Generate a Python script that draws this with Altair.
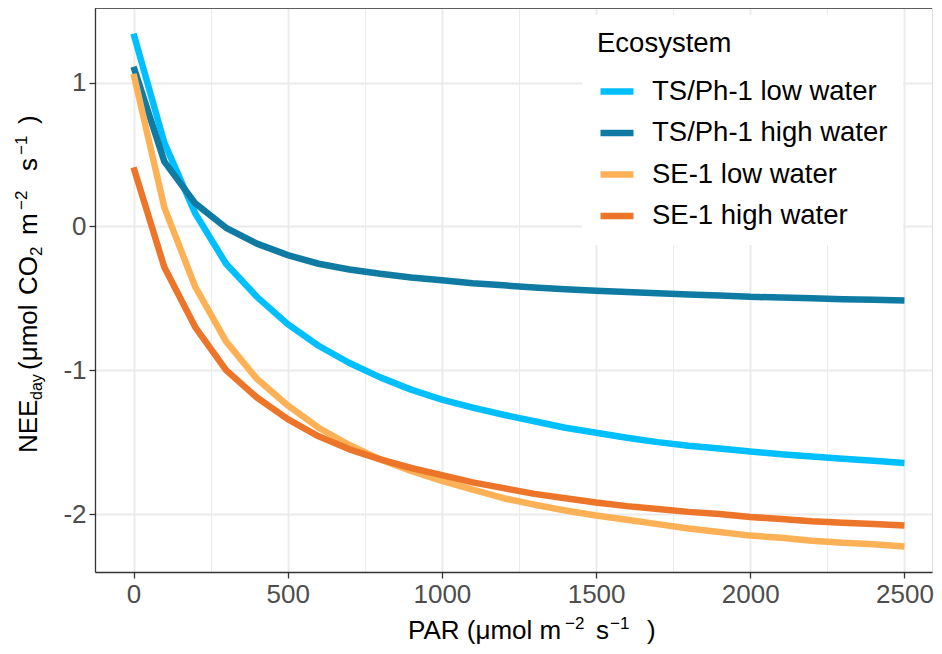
import altair as alt
import pandas as pd

# ---- data ----
par = [0, 100, 200, 300, 400, 500, 600, 700, 800, 900, 1000, 1100, 1200,
       1300, 1400, 1500, 1600, 1700, 1800, 1900, 2000, 2100, 2200, 2300, 2400, 2500]

ts_low = [1.34, 0.58, 0.09, -0.26, -0.49, -0.68, -0.83, -0.95, -1.05, -1.135, -1.205,
          -1.26, -1.31, -1.355, -1.40, -1.435, -1.47, -1.50, -1.525, -1.545, -1.565,
          -1.585, -1.60, -1.615, -1.63, -1.645]
ts_high = [1.11, 0.45, 0.16, -0.01, -0.12, -0.20, -0.26, -0.30, -0.33, -0.355, -0.375,
           -0.395, -0.41, -0.425, -0.437, -0.447, -0.456, -0.465, -0.473, -0.48, -0.49,
           -0.495, -0.50, -0.506, -0.511, -0.516]
se_low = [1.06, 0.13, -0.42, -0.80, -1.06, -1.245, -1.40, -1.52, -1.62, -1.70, -1.77,
          -1.83, -1.89, -1.935, -1.975, -2.01, -2.04, -2.07, -2.10, -2.125, -2.15,
          -2.165, -2.185, -2.20, -2.21, -2.225]
se_high = [0.41, -0.285, -0.70, -1.00, -1.19, -1.34, -1.46, -1.55, -1.62, -1.68, -1.73,
           -1.78, -1.82, -1.86, -1.89, -1.92, -1.945, -1.965, -1.985, -2.00, -2.02,
           -2.035, -2.05, -2.06, -2.07, -2.08]

series_names = ["TS/Ph-1 low water", "TS/Ph-1 high water", "SE-1 low water", "SE-1 high water"]
series_colors = ["#00BFFF", "#0F7BA3", "#FDB157", "#EC7529"]

x_ticks = [0, 250, 500, 750, 1000, 1250, 1500, 1750, 2000, 2250, 2500]
y_ticks = [-2, -1.5, -1, -0.5, 0, 0.5, 1, 1.5]

rows = []
for name, vals in zip(series_names, [ts_low, ts_high, se_low, se_high]):
    for p, v in zip(par, vals):
        rows.append({"PAR": p, "NEE": v, "Ecosystem": name})
df = pd.DataFrame(rows)

FONT = "Liberation Sans"
W, H = 837, 564

x_axis = alt.Axis(
    values=x_ticks, format="d", title=None,
    labelExpr="datum.value % 500 === 0 ? datum.label : ''",
    labelFontSize=26, labelColor="#4D4D4D", labelFont=FONT, labelPadding=3,
    tickSize={"condition": {"test": "datum.value % 500 === 0", "value": 6}, "value": 0},
    tickColor="#333333", tickWidth=1.3,
    gridColor="#EBEBEB",
    gridWidth={"condition": {"test": "datum.value % 500 === 0", "value": 2.0}, "value": 1.0},
    domain=True, domainColor="#333333", domainWidth=1.3,
)
y_axis = alt.Axis(
    values=y_ticks, format="d", title=None,
    labelExpr="datum.value % 1 === 0 ? replace(datum.label, '\u2212', '-') : ''",
    labelFontSize=26, labelColor="#4D4D4D", labelFont=FONT, labelPadding=3,
    tickSize={"condition": {"test": "datum.value % 1 === 0", "value": 6}, "value": 0},
    tickColor="#333333", tickWidth=1.3,
    gridColor="#EBEBEB",
    gridWidth={"condition": {"test": "datum.value % 1 === 0", "value": 2.0}, "value": 1.0},
    domain=True, domainColor="#333333", domainWidth=1.3,
)

lines = alt.Chart(df).mark_line(strokeWidth=6.5, strokeCap="butt", strokeJoin="round").encode(
    x=alt.X("PAR:Q", scale=alt.Scale(domain=[-125, 2589.3], nice=False, zero=False), axis=x_axis),
    y=alt.Y("NEE:Q", scale=alt.Scale(domain=[-2.403, 1.518], nice=False, zero=False), axis=y_axis),
    color=alt.Color(
        "Ecosystem:N",
        scale=alt.Scale(domain=series_names, range=series_colors),
        sort=series_names,
        legend=alt.Legend(
            orient="none", legendX=487, legendY=7,
            fillColor="white", padding=15,
            title="Ecosystem", titleFontSize=27.5, titleFontWeight="normal",
            titleColor="black", titleFont=FONT, titlePadding=14,
            labelFontSize=27.5, labelColor="black", labelFont=FONT, labelLimit=500,
            symbolType="stroke", symbolSize=1089, symbolStrokeWidth=6.5,
            labelOffset=15, rowPadding=7.5,
        ),
    ),
    order=alt.Order("PAR:Q"),
)

# top panel border
top_border = alt.Chart(pd.DataFrame({"b": [0]})).mark_rule(
    color="#333333", strokeWidth=1.3
).encode(y=alt.value(0), x=alt.value(0), x2=alt.value(W))

# axis titles with sub/superscripts built from text pieces
pieces = pd.DataFrame({"k": [0]})


def ytext(txt, y, size, xoff):
    return alt.Chart(pieces).mark_text(
        angle=270, align="left", baseline="alphabetic", fontSize=size, font=FONT,
        color="black", text=txt,
    ).encode(x=alt.value(xoff), y=alt.value(y))


def xtext(txt, x, size, y):
    return alt.Chart(pieces).mark_text(
        align="left", baseline="alphabetic", fontSize=size, font=FONT,
        color="black", text=txt,
    ).encode(x=alt.value(x), y=alt.value(y))


YB = -57.7  # baseline of y title
y_title = [
    ytext("NEE", 445, 26, YB),
    ytext("day", 392, 16, YB + 5),
    ytext("(μmol", 362, 26, YB),
    ytext("CO", 287, 26, YB),
    ytext("2", 248, 17, YB + 5),
    ytext("m", 227, 26, YB),
    ytext("\u22122", 202, 17, YB - 10),
    ytext("s", 163, 26, YB),
    ytext("\u22121", 147, 17, YB - 10),
    ytext(")", 116, 26, YB),
]

XB = 631  # baseline of x title
x_title = [
    xtext("PAR (μmol m", 313, 26, XB),
    xtext("\u22122", 470, 17, XB - 10),
    xtext("s", 501, 26, XB),
    xtext("\u22121", 515, 17, XB - 10),
    xtext(")", 552, 26, XB),
]

chart = alt.layer(lines, top_border, *y_title, *x_title).properties(
    width=W, height=H,
    autosize=alt.AutoSizeParams(type="none"),
    padding={"left": 87, "top": 0, "right": 2, "bottom": 74},
).configure_view(
    strokeWidth=0
).configure(background="white")

chart.save("out.html", embed_options={"renderer": "svg", "actions": False})
